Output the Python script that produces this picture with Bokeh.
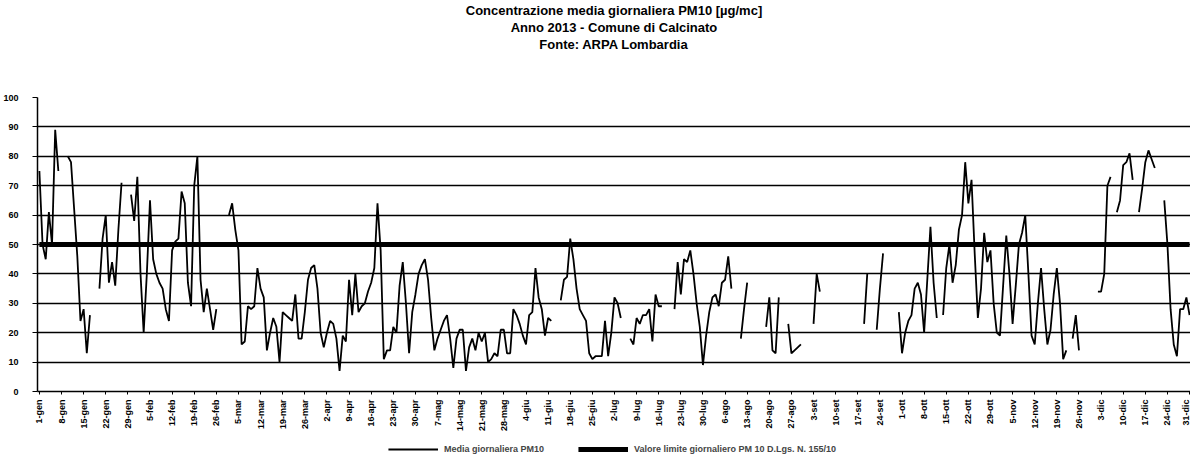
import math
from bokeh.plotting import figure
from bokeh.layouts import column
from bokeh.models import FixedTicker, Legend, LegendItem, Title, Range1d
from bokeh.embed import file_html
from bokeh.resources import INLINE

title_lines = [
    "Concentrazione media giornaliera PM10 [µg/mc]",
    "Anno 2013 - Comune di Calcinato",
    "Fonte: ARPA Lombardia",
]

tick_labels = [
    "1-gen", "8-gen", "15-gen", "22-gen", "29-gen",
    "5-feb", "12-feb", "19-feb", "26-feb",
    "5-mar", "12-mar", "19-mar", "26-mar",
    "2-apr", "9-apr", "16-apr", "23-apr", "30-apr",
    "7-mag", "14-mag", "21-mag", "28-mag",
    "4-giu", "11-giu", "18-giu", "25-giu",
    "2-lug", "9-lug", "16-lug", "23-lug", "30-lug",
    "6-ago", "13-ago", "20-ago", "27-ago",
    "3-set", "10-set", "17-set", "24-set",
    "1-ott", "8-ott", "15-ott", "22-ott", "29-ott",
    "5-nov", "12-nov", "19-nov", "26-nov",
    "3-dic", "10-dic", "17-dic", "24-dic", "31-dic",
]

# daily mean PM10 (µg/m³), 1 Jan .. 31 Dec 2013; None = missing day
pm10 = [
    75, 50, 45, 61, 50, 89, 75, None, None, 80,
    78, 62, 46, 24, 28, 13, 26, None, None, 35,
    52, 60, 37, 44, 36, 55, 71, None, None, 67,
    58, 73, 40, 20, 40, 65, 45, 40, 37, 35,
    28, 24, 48, 51, 52, 68, 64, 37, 29, 70,
    80, 38, 27, 35, 28, 21, 28, None, None, None,
    60, 64, 55, 48, 16, 17, 29, 28, 29, 42,
    35, 32, 14, 20, 25, 22, 10, 27, 26, 25,
    24, 33, 18, 18, 27, 38, 42, 43, 35, 20,
    15, 20, 24, 23, 18, 7, 19, 17, 38, 26,
    40, 27, 29, 30, 34, 37, 42, 64, 48, 11,
    14, 14, 22, 20, 36, 44, 30, 13, 27, 33,
    40, 43, 45, 38, 25, 14, 18, 21, 24, 26,
    18, 8, 18, 21, 21, 7, 15, 18, 14, 20,
    17, 20, 10, 11, 13, 12, 21, 21, 13, 13,
    28, 26, 23, 19, 16, 26, 27, 42, 32, 28,
    19, 25, 24, None, None, 31, 38, 39, 52, 45,
    35, 28, 26, 24, 13, 11, 12, 12, 12, 24,
    12, 20, 32, 30, 25, None, None, 18, 16, 25,
    23, 26, 26, 28, 17, 33, 29, 29, None, None,
    None, 28, 44, 33, 45, 44, 48, 40, 30, 22,
    9, 19, 27, 32, 33, 29, 37, 38, 46, 35,
    None, None, 18, 28, 37, None, None, None, None, None,
    22, 32, 14, 13, 32, None, None, 23, 13, 14,
    15, 16, None, None, None, 23, 40, 34, None, None,
    None, None, None, None, None, None, None, None, None, None,
    None, 23, 40, None, None, 21, 35, 47, None, None,
    None, None, 27, 13, 20, 24, 26, 35, 37, 33,
    20, 38, 56, 37, 25, None, 26, 42, 50, 37,
    43, 55, 60, 78, 64, 72, 47, 25, 35, 54,
    44, 48, 30, 20, 19, 36, 53, 40, 23, 36,
    50, 54, 60, 40, 19, 16, 30, 42, 28, 16,
    21, 33, 42, 30, 11, 14, None, 18, 26, 14,
    None, None, None, None, None, 34, 34, 40, 70, 73,
    None, 61, 65, 77, 78, 81, 72, None, 61, 69,
    78, 82, 79, 76, None, None, 65, 50, 28, 16,
    12, 28, 28, 32, 26,
]

limit_value = 50
series_names = ["Media giornaliera PM10", "Valore limite giornaliero PM 10 D.Lgs. N. 155/10"]

FONT = "'Liberation Sans Narrow', 'Arial Narrow', 'Liberation Sans', sans-serif"

days = list(range(len(pm10)))
vals = [float("nan") if v is None else v for v in pm10]
limit = [limit_value] * len(days)

p = figure(frame_width=1153, frame_height=294, output_backend="svg", toolbar_location=None,
           x_range=Range1d(-0.6, 364.3), y_range=Range1d(0, 100),
           title_location=None, min_border_left=34, min_border_right=0,
           min_border_bottom=0, min_border_top=0)
p.outline_line_color = None
p.background_fill_color = "white"
p.border_fill_color = "white"

# spacer between title block and plot, then the 3 title lines (bottom-up)
p.add_layout(Title(text=" ", text_font_size="40px", align="center", standoff=0), "above")
for t in reversed(title_lines):
    p.add_layout(Title(text=t, align="center", text_font=FONT, text_font_size="13px",
                       text_font_style="bold", text_color="black", standoff=0), "above")

r_lim = p.line(days, limit, line_color="black", line_width=5)
r_pm = p.line(days, vals, line_color="black", line_width=1.8)

p.xgrid.visible = False
p.ygrid.grid_line_color = "black"
p.ygrid.grid_line_width = 1.6

p.yaxis.axis_label = None
p.yaxis.ticker = FixedTicker(ticks=list(range(0, 101, 10)))
p.yaxis.major_label_text_font = FONT
p.yaxis.major_label_text_font_size = "9px"
p.yaxis.major_label_text_font_style = "bold"
p.yaxis.major_label_text_color = "black"
p.yaxis.major_tick_out = 5
p.yaxis.major_tick_in = 0
p.yaxis.major_label_standoff = 14
p.yaxis.minor_tick_line_color = None
p.yaxis.axis_line_color = "black"
p.yaxis.axis_line_width = 1.5

xt = [7 * i for i in range(len(tick_labels))]
p.xaxis.axis_label = None
p.xaxis.ticker = FixedTicker(ticks=xt)
p.xaxis.major_label_overrides = {x: lab for x, lab in zip(xt, tick_labels)}
p.xaxis.major_label_orientation = math.pi / 2
p.xaxis.major_label_text_font = FONT
p.xaxis.major_label_text_font_size = "9px"
p.xaxis.major_label_text_font_style = "bold"
p.xaxis.major_label_text_color = "black"
p.xaxis.major_tick_out = 3
p.xaxis.major_tick_in = 0
p.xaxis.major_label_standoff = 5
p.xaxis.minor_tick_line_color = None
p.xaxis.axis_line_color = "black"
p.xaxis.axis_line_width = 1.5

# legend strip below the chart (same series, drawn outside its visible range)
lg = figure(width=34 + 1153, height=30, output_backend="svg", toolbar_location=None,
            x_range=Range1d(0, 1), y_range=Range1d(-20, -10),
            x_axis_location=None, y_axis_location=None, title_location=None,
            min_border_left=34, min_border_right=0, min_border_top=0, min_border_bottom=0)
lg.outline_line_color = None
lg.xgrid.visible = False
lg.ygrid.visible = False
lg_pm = lg.line(days, vals, line_color="black", line_width=1.8)
lg_lim = lg.line(days, limit, line_color="black", line_width=5)

legend = Legend(items=[LegendItem(label=series_names[0], renderers=[lg_pm]),
                       LegendItem(label=series_names[1], renderers=[lg_lim])],
                orientation="horizontal", location="center",
                glyph_width=50, glyph_height=8, label_height=10,
                label_standoff=6, spacing=34,
                label_text_font=FONT, label_text_font_size="9px",
                label_text_font_style="bold", border_line_color=None,
                padding=1, margin=0, background_fill_alpha=0)
lg.add_layout(legend, "center")

open("out.html", "w").write(file_html(column(p, lg, spacing=0), INLINE))
